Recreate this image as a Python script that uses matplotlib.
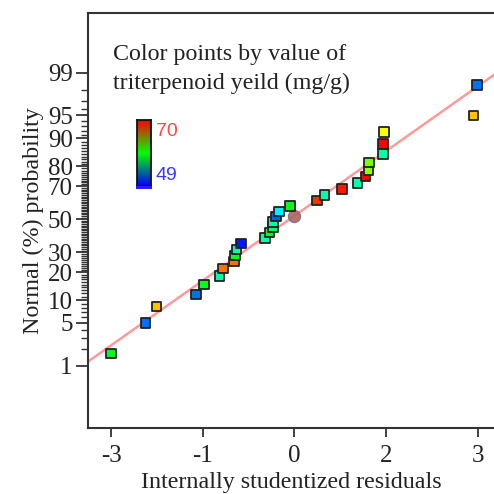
import numpy as np
import matplotlib
matplotlib.use("Agg")
import matplotlib.pyplot as plt
from matplotlib.colors import LinearSegmentedColormap, Normalize
from matplotlib.patches import Rectangle
from statistics import NormalDist

# residuals (x) and normal probability (%) of each run
residuals = [-3.00, -2.44, -2.26, -1.61, -1.48, -1.23, -1.17, -0.99, -0.97, -0.95,
             -0.87, -0.48, -0.41, -0.35, -0.35, -0.30, -0.25, -0.07, 0.37, 0.49,
             0.78, 1.03, 1.17, 1.21, 1.22, 1.45, 1.45, 1.47, 2.93, 2.99]
prob_pct = [1.67, 5.0, 8.33, 11.67, 15.0, 18.33, 21.67, 25.0, 28.33, 31.67,
            35.0, 38.33, 41.67, 45.0, 48.33, 51.67, 55.0, 58.33, 61.67, 65.0,
            68.33, 71.67, 75.0, 78.33, 81.67, 85.0, 88.33, 91.67, 95.0, 98.33]
# triterpenoid yield (mg/g) used to colour the points
yield_vals = [59.0, 51.3, 66.0, 51.3, 59.0, 56.0, 67.7, 67.7, 59.0, 56.0,
              49.5, 56.0, 59.0, 57.5, 56.0, 51.0, 54.0, 59.0, 69.0, 56.0,
              69.5, 56.0, 70.0, 62.5, 62.0, 56.0, 70.0, 64.7, 66.0, 51.3]
yield_min, yield_max = 49, 70

# reference line: z = (x - mean) / sd
fit_mean, fit_sd = -0.078, 1.462

major_pct = [1, 5, 10, 20, 30, 50, 70, 80, 90, 95, 99]
x_ticks = [-3, -1.5, 0, 1.5, 3]
x_tick_labels = ["-3", "-1", "0", "2", "3"]

nd = NormalDist()
def to_z(p):
    return [nd.inv_cdf(v / 100.0) for v in p]

serif = "Liberation Serif"
txt = "#222222"
point_cmap = LinearSegmentedColormap.from_list(
    "hue", ["#0000ff", "#00ffff", "#00ff00", "#ffff00", "#ff0000"])
bar_cmap = LinearSegmentedColormap.from_list("bgr", ["#0000ff", "#00ff00", "#ff0000"])
norm = Normalize(yield_min, yield_max)

fig = plt.figure(figsize=(4.94, 4.94), dpi=100)
ax = fig.add_axes([88 / 494, 1 - 428 / 494, 1 - 88 / 494, (428 - 13) / 494])

xlim = (-3.379, 3.27)
ax.set_xlim(*xlim)
ax.set_ylim(-3.31, 3.27)

xs = np.array(xlim)
ax.plot(xs, (xs - fit_mean) / fit_sd, color="#ff9a9a", lw=1.8, zorder=1)

ax.scatter(residuals, to_z(prob_pct), c=[point_cmap(norm(v)) for v in yield_vals],
           marker="s", s=46, edgecolors="#222222", linewidths=1.3, zorder=3)
ax.scatter([0], [(0 - fit_mean) / fit_sd], marker="o", s=75, color="#b06464",
           edgecolors="#777777", linewidths=1.0, alpha=0.9, zorder=2)

ax.set_yticks(to_z(major_pct))
ax.set_yticklabels([str(p) for p in major_pct])
minor_pct = [p for p in range(2, 99) if p not in major_pct]
ax.set_yticks(to_z(minor_pct), minor=True)
ax.set_xticks(x_ticks)
ax.set_xticklabels(x_tick_labels)

for s in ["left", "bottom", "top"]:
    ax.spines[s].set_linewidth(1.5)
    ax.spines[s].set_color("#333333")
ax.spines["right"].set_visible(False)
ax.tick_params(axis="y", which="major", length=9, width=1.3, color="#333333",
               pad=2, labelsize=18)
ax.tick_params(axis="y", which="minor", length=5, width=1.0, color="#333333")
ax.tick_params(axis="x", length=6.5, width=1.3, color="#333333", pad=6, labelsize=18)
for lab in ax.get_xticklabels() + ax.get_yticklabels():
    lab.set_fontfamily(serif)
    lab.set_color(txt)

ax.set_xlabel("Internally studentized residuals", fontfamily=serif, fontsize=17.3,
              color=txt, labelpad=3)
ax.set_ylabel("Normal (%) probability", fontfamily=serif, fontsize=17.3,
              color=txt, labelpad=3)

fig.text(113 / 494, 1 - 60 / 494, "Color points by value of", fontfamily=serif,
         fontsize=17.3, color=txt, va="baseline")
fig.text(113 / 494, 1 - 89 / 494, "triterpenoid yeild (mg/g)", fontfamily=serif,
         fontsize=17.3, color=txt, va="baseline")

# little colour key
cax = fig.add_axes([137 / 494, 1 - 186 / 494, 14 / 494, 66 / 494])
cax.imshow(np.linspace(1, 0, 100).reshape(-1, 1), aspect="auto", cmap=bar_cmap)
cax.set_xticks([])
cax.set_yticks([])
for s in cax.spines.values():
    s.set_linewidth(1.3)
    s.set_color("#111111")
fig.patches.append(Rectangle((136 / 494, 1 - 189 / 494), 16 / 494, 2.5 / 494,
                             transform=fig.transFigure, color="#2020ff", lw=0))
fig.text(156 / 494, 1 - 131 / 494, str(yield_max), fontfamily="Liberation Sans",
         fontsize=14, color="#ff4848", va="center")
fig.text(156 / 494, 1 - 175 / 494, str(yield_min), fontfamily="Liberation Sans",
         fontsize=14, color="#3838ff", va="center")

fig.savefig("out.png", dpi=100)
